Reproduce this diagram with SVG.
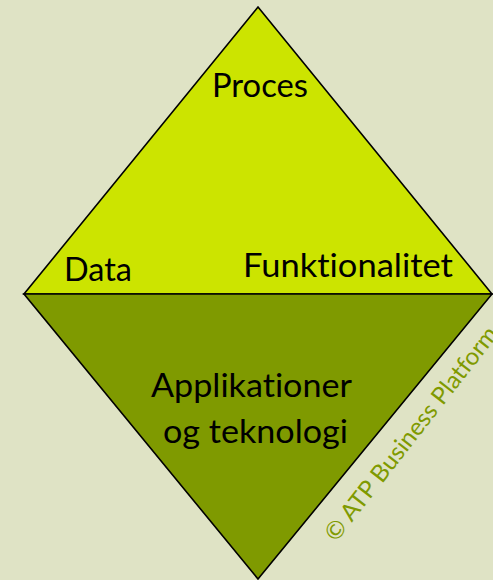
<svg xmlns="http://www.w3.org/2000/svg" width="493" height="580" viewBox="0 0 493 580">
<style>
.lbl{font-family:Lato,"Liberation Sans",sans-serif;font-size:32px;fill:#000;font-variant-ligatures:none}
.edge{stroke:#000;stroke-width:1.6;stroke-linejoin:miter}
.wm{font-family:Lato,"Liberation Sans",sans-serif;font-size:24px;fill:#7f9a00;font-variant-ligatures:none}
</style>
<rect width="493" height="580" fill="#dfe3c5"/>
<g id="top">
<polygon class="edge" points="258,7 492,294 24,294" fill="#cce400"/>
<text class="lbl" x="212" y="97" textLength="96" lengthAdjust="spacingAndGlyphs">Proces</text>
<text class="lbl" x="64" y="281" textLength="68" lengthAdjust="spacingAndGlyphs">Data</text>
<text class="lbl" x="243" y="277" textLength="210" lengthAdjust="spacingAndGlyphs">Funktionalitet</text>
</g>
<g id="bottom">
<polygon class="edge" points="24,294 492,294 258,579" fill="#7f9a00"/>
<text class="lbl" x="151" y="397" textLength="201" lengthAdjust="spacingAndGlyphs">Applikationer</text>
<text class="lbl" x="163" y="443" textLength="185" lengthAdjust="spacingAndGlyphs">og teknologi</text>
</g>
<g id="connectors"></g>
<text class="wm" transform="translate(336,543) rotate(-52)" textLength="265" lengthAdjust="spacingAndGlyphs">© ATP Business Platform</text>
</svg>
